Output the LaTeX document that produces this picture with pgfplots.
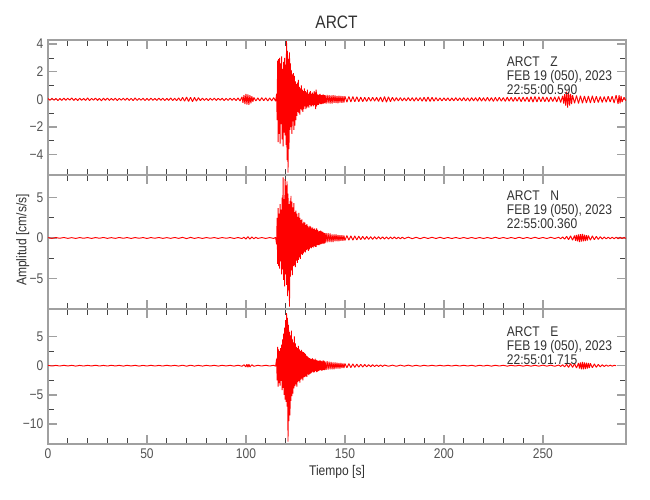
\documentclass[border=0pt]{standalone}
\usepackage{fontspec}
\setmainfont{Liberation Sans}[FakeStretch=0.86]
\usepackage{pgfplots}
\pgfplotsset{compat=1.18}

\definecolor{framegray}{RGB}{160,160,160}
\definecolor{tickdark}{RGB}{70,70,70}
\definecolor{labelgray}{RGB}{85,85,85}
\definecolor{textgray}{RGB}{50,50,50}

\pgfplotsset{
  seis/.style={
    scale only axis, width=433.5pt, height=101.25pt,
    xmin=0, xmax=292,
    axis line style={framegray, line width=1.1pt},
    tick align=inside,
    xtick={0,50,100,150,200,250}, minor x tick num=4,
    minor y tick num=1,
    major tick length=7pt, minor tick length=4.2pt,
    major tick style={framegray, line width=1.1pt},
    minor tick style={tickdark, line width=0.5pt},
    ticklabel style={font=\fontsize{10.5}{12}\selectfont, text=labelgray},
    xticklabels={},
  },
  trace/.style={red, line width=0.7pt, mark=none, line join=bevel},
}

\begin{document}
\begin{tikzpicture}
\path[use as bounding box, fill=white] (0,0) rectangle (487.5pt,375pt);

% --- Z component ---
\begin{axis}[seis, at={(36pt,243.75pt)}, anchor=south west,
  ymin=-5.47, ymax=4.29,
  ytick={-4,-2,0,2,4}, yticklabels={−4,−2,0,2,4}]
\addplot[trace] coordinates {
(0,0.06)(1,-0.07)(2,0.08)(3,-0.06)(4,0.07)(5,-0.09)(6,0.06)(7,-0.08)(8,0.09)(9,-0.07)(10,0.08)(11,-0.06)(12,0.1)(13,-0.08)(14,0.07)(15,-0.09)(16,0.08)(17,-0.07)(18,0.06)(19,-0.08)(20,0.1)(21,-0.09)(22,0.07)(23,-0.06)(24,0.09)(25,-0.08)(26,0.07)(27,-0.1)(28,0.08)(29,-0.07)(30,0.09)(31,-0.08)(32,0.06)(33,-0.07)(34,0.08)(35,-0.09)(36,0.07)(37,-0.06)(38,0.08)(39,-0.07)(40,0.09)(41,-0.08)(42,0.07)(43,-0.09)(44,0.1)(45,-0.08)(46,0.07)(47,-0.06)(48,0.08)(49,-0.09)(50,0.07)(51,-0.08)(52,0.09)(53,-0.07)(54,0.06)(55,-0.08)(56,0.09)(57,-0.07)(58,0.08)(59,-0.09)(60,0.07)(61,-0.08)(62,0.1)(63,-0.09)(64,0.08)(65,-0.1)(66,0.11)(67,-0.12)(68,0.15)(69,-0.14)(70,0.17)(71,-0.16)(72,0.15)(73,-0.17)(74,0.14)(75,-0.13)(76,0.12)(77,-0.1)(78,0.09)(79,-0.08)(80,0.07)(81,-0.09)(82,0.08)(83,-0.07)(84,0.09)(85,-0.08)(86,0.07)(87,-0.06)(88,0.08)(89,-0.09)(90,0.07)(91,-0.08)(92,0.09)(93,-0.07)(94,0.08)(95,-0.09)(96,0.1)(97,-0.12)
(98,0.18)(98.5,-0.25)(99,0.3)(99.5,-0.35)(100,0.4)(100.5,-0.38)(101,0.35)(101.5,-0.4)(102,0.3)(102.5,-0.28)(103,0.22)(103.5,-0.18)(104,0.14)(105,-0.12)(106,0.1)(107,-0.11)(108,0.12)(109,-0.1)(110,0.11)(111,-0.12)(112,0.1)(113,-0.11)(114,0.12)(115,-0.13)
(115.5,0.4)(115.75,-1.5)(116,2.8)(116.25,-3.1)(116.5,2.9)(116.75,-2.5)(117,3.0)(117.25,-3.2)(117.5,2.6)(117.75,-1.8)(118,3.1)(118.25,-2.9)(118.5,2.2)(118.75,-3.4)(119,2.7)(119.25,-2.4)(119.5,3.0)(119.75,-2.6)(120,2.5)(120.25,-3.3)(120.5,4.2)(120.75,-4.4)(121,3.5)(121.25,-5.3)(121.5,2.9)(121.75,-3.6)(122,3.4)(122.25,-2.2)(122.5,2.6)(122.75,-2.0)(123,2.1)(123.25,-2.5)(123.5,1.8)(123.75,-1.6)(124,1.9)(124.25,-2.2)(124.5,1.7)(124.75,-1.9)(125,1.3)(125.25,-1.5)(125.5,1.1)(125.75,-1.2)(126,1.2)(126.25,-0.9)(126.5,1.4)(126.75,-1.0)(127,0.9)(127.25,-1.1)(127.5,0.8)(127.75,-0.7)(128,1.0)(128.25,-0.8)(128.5,0.7)(128.75,-0.9)(129,0.6)(129.25,-0.7)(129.5,0.8)(129.75,-0.5)(130,0.6)(130.25,-0.7)(130.5,0.5)(130.75,-0.6)(131,0.7)(131.25,-0.5)(131.5,0.4)(131.75,-0.6)(132,0.5)(132.25,-0.4)(132.5,0.6)(132.75,-0.5)(133,0.4)(133.25,-0.5)(133.5,0.5)(133.75,-0.4)(134,0.4)(134.25,-0.5)(134.5,0.6)(134.75,-0.4)(135,0.5)(135.25,-0.7)(135.5,0.7)(135.75,-0.5)(136,0.4)(136.25,-0.4)(136.5,0.3)(136.75,-0.4)(137,0.35)(137.25,-0.3)(137.5,0.4)(137.75,-0.35)(138,0.3)(138.25,-0.35)(138.5,0.3)(138.75,-0.3)(139,0.35)(139.25,-0.3)(139.5,0.3)(139.75,-0.28)(140,0.3)(140.5,-0.3)(141,0.32)(141.5,-0.28)(142,0.3)(142.5,-0.3)(143,0.28)(143.5,-0.3)(144,0.3)(144.5,-0.26)(145,0.28)(145.5,-0.27)(146,0.25)(146.5,-0.28)(147,0.26)(147.5,-0.24)(148,0.25)(148.5,-0.26)(149,0.23)(149.5,-0.24)(150,0.22)
(151,-0.2)(152,0.21)(153,-0.19)(154,0.2)(155,-0.18)(156,0.19)(157,-0.17)(158,0.16)(159,-0.17)(160,0.15)(161,-0.16)(162,0.15)(163,-0.14)(164,0.15)(165,-0.13)(166,0.14)(167,-0.15)(168,0.17)(169,-0.19)(170,0.2)(171,-0.21)(172,0.19)(173,-0.17)(174,0.15)(175,-0.14)(176,0.13)(177,-0.12)(178,0.13)(179,-0.12)(180,0.11)(181,-0.12)(182,0.13)(183,-0.11)(184,0.12)(185,-0.13)(186,0.12)(187,-0.11)(188,0.13)(189,-0.14)(190,0.15)(191,-0.16)(192,0.17)(193,-0.16)(194,0.15)(195,-0.14)(196,0.13)(197,-0.12)(198,0.11)(199,-0.12)(200,0.11)(201,-0.1)(202,0.11)(203,-0.12)(204,0.1)(205,-0.11)(206,0.12)(207,-0.1)(208,0.11)(209,-0.12)(210,0.13)(211,-0.12)(212,0.11)(213,-0.13)(214,0.12)(215,-0.11)(216,0.12)(217,-0.13)(218,0.14)(219,-0.13)(220,0.12)(221,-0.14)(222,0.15)(223,-0.14)(224,0.13)(225,-0.15)(226,0.14)(227,-0.13)(228,0.15)(229,-0.14)(230,0.13)(231,-0.15)(232,0.16)(233,-0.14)(234,0.15)(235,-0.16)(236,0.15)(237,-0.14)(238,0.16)(239,-0.17)(240,0.16)(241,-0.15)(242,0.17)(243,-0.18)(244,0.19)(245,-0.2)(246,0.21)(247,-0.19)(248,0.18)(249,-0.17)(250,0.18)(251,-0.17)(252,0.16)(253,-0.18)(254,0.17)(255,-0.16)(256,0.18)(257,-0.19)(258,0.2)(259,-0.22)(260,0.25)(260.5,-0.3)(261,0.38)(261.5,-0.45)(262,0.55)(262.5,-0.6)(263,0.5)(263.5,-0.45)(264,0.4)(264.5,-0.35)(265,0.3)(266,-0.28)(267,0.27)(268,-0.3)(269,0.26)(270,-0.28)(271,0.25)(272,-0.27)(273,0.24)(274,-0.26)(275,0.25)(276,-0.24)(277,0.22)(278,-0.23)(279,0.21)(280,-0.22)(281,0.2)(282,-0.21)(283,0.22)(284,-0.2)(285,0.23)(286,-0.26)(287,0.3)(288,-0.33)(288.5,0.3)(289,-0.28)(289.5,0.25)(290,-0.2)(291,0.15)(292,-0.1)
};
\end{axis}

% --- N component ---
\begin{axis}[seis, at={(36pt,143.25pt)}, anchor=south west, height=100.5pt,
  ymin=-8.8, ymax=7.8,
  ytick={-5,0,5}, yticklabels={−5,0,5}]
\addplot[trace] coordinates {
(0,0.04)(2,-0.05)(4,0.05)(6,-0.04)(8,0.06)(10,-0.05)(12,0.04)(14,-0.06)(16,0.05)(18,-0.04)(20,0.05)(22,-0.06)(24,0.05)(26,-0.04)(28,0.06)(30,-0.05)(32,0.04)(34,-0.05)(36,0.06)(38,-0.04)(40,0.05)(42,-0.06)(44,0.05)(46,-0.04)(48,0.05)(50,-0.06)(52,0.05)(54,-0.04)(56,0.06)(58,-0.05)(60,0.04)(62,-0.05)(64,0.06)(66,-0.05)(68,0.07)(70,-0.08)(72,0.07)(74,-0.06)(76,0.05)(78,-0.06)(80,0.05)(82,-0.04)(84,0.05)(86,-0.06)(88,0.05)(90,-0.04)(92,0.05)(94,-0.06)(96,0.05)(98,-0.07)
(99,0.1)(100,-0.14)(101,0.16)(102,-0.15)(103,0.13)(104,-0.1)(105,0.08)(106,-0.06)(108,0.05)(110,-0.06)(112,0.05)(114,-0.06)(115,0.07)
(115.5,-0.8)(115.75,2.5)(116,-3.2)(116.25,3.7)(116.5,-3.5)(116.75,3.0)(117,-3.8)(117.25,4.2)(117.5,-2.9)(117.75,3.5)(118,-4.5)(118.25,5.0)(118.5,-3.9)(118.75,7.5)(119,-5.2)(119.25,4.8)(119.5,-6.0)(119.75,7.3)(120,-4.5)(120.25,6.5)(120.5,-5.8)(120.75,7.0)(121,-7.2)(121.25,5.5)(121.5,-6.5)(121.75,4.2)(122,-8.5)(122.25,4.6)(122.5,-4.8)(122.75,5.2)(123,-4.0)(123.25,4.5)(123.5,-4.6)(123.75,3.8)(124,-3.5)(124.25,4.3)(124.5,-3.4)(124.75,3.2)(125,-3.6)(125.25,3.4)(125.5,-2.8)(125.75,3.0)(126,-3.1)(126.25,2.6)(126.5,-2.7)(126.75,3.1)(127,-2.4)(127.25,2.5)(127.5,-2.6)(127.75,2.2)(128,-2.0)(128.25,2.3)(128.5,-2.1)(128.75,1.8)(129,-1.9)(129.25,2.0)(129.5,-1.7)(129.75,1.9)(130,-1.8)(130.25,1.6)(130.5,-1.5)(130.75,1.7)(131,-1.4)(131.25,1.5)(131.5,-1.6)(131.75,1.3)(132,-1.4)(132.25,1.5)(132.5,-1.2)(132.75,1.4)(133,-1.3)(133.25,1.2)(133.5,-1.1)(133.75,1.3)(134,-1.2)(134.25,1.1)(134.5,-1.0)(134.75,1.2)(135,-1.1)(135.25,1.0)(135.5,-1.1)(135.75,1.2)(136,-0.9)(136.25,1.0)(136.5,-0.9)(136.75,0.8)(137,-0.9)(137.25,0.85)(137.5,-0.8)(137.75,0.9)(138,-0.75)(138.25,0.8)(138.5,-0.7)(138.75,0.75)(139,-0.7)(139.25,0.65)(139.5,-0.7)(139.75,0.6)(140,-0.65)(140.5,0.6)(141,-0.55)(141.5,0.6)(142,-0.5)(142.5,0.55)(143,-0.5)(143.5,0.45)(144,-0.5)(144.5,0.45)(145,-0.4)(145.5,0.45)(146,-0.4)(146.5,0.38)(147,-0.4)(147.5,0.35)(148,-0.36)(148.5,0.33)(149,-0.35)(149.5,0.3)(150,-0.32)(151,0.3)(152,-0.28)(153,0.26)(154,-0.27)(155,0.25)(156,-0.24)(157,0.22)(158,-0.21)(159,0.2)(160,-0.19)
(161,0.18)(162,-0.17)(163,0.16)(164,-0.17)(165,0.15)(166,-0.14)(167,0.15)(168,-0.13)(169,0.14)(170,-0.13)(171,0.12)(172,-0.13)(173,0.12)(174,-0.11)(175,0.12)(176,-0.11)(177,0.1)(178,-0.11)(179,0.1)(180,-0.09)(182,0.1)(184,-0.09)(186,0.08)(188,-0.09)(190,0.08)(192,-0.07)(194,0.08)(196,-0.07)(198,0.08)(200,-0.07)(202,0.06)(204,-0.07)(206,0.06)(208,-0.07)(210,0.06)(212,-0.07)(214,0.06)(216,-0.07)(218,0.06)(220,-0.07)(222,0.06)(224,-0.07)(226,0.08)(228,-0.07)(230,0.06)(232,-0.07)(234,0.06)(236,-0.07)(238,0.08)(240,-0.07)(242,0.06)(244,-0.07)(246,0.08)(248,-0.07)(250,0.06)(252,-0.07)(254,0.08)(256,-0.07)(258,0.08)(259,-0.1)(260,0.12)(261,-0.15)(262,0.2)(263,-0.22)(264,0.26)(265,-0.28)(266,0.3)(266.5,-0.35)(267,0.38)(267.5,-0.42)(268,0.45)(268.5,-0.5)(269,0.48)(269.5,-0.45)(270,0.5)(270.5,-0.42)(271,0.4)(271.5,-0.38)(272,0.35)(272.5,-0.32)(273,0.3)(274,-0.28)(275,0.25)(276,-0.22)(277,0.2)(278,-0.18)(279,0.16)(280,-0.14)(281,0.12)(282,-0.11)(283,0.1)(284,-0.1)(285,0.09)(286,-0.1)(287,0.09)(288,-0.1)(289,0.09)(290,-0.08)(291,0.07)(292,-0.06)
};
\end{axis}

% --- E component ---
\begin{axis}[seis, at={(36pt,42pt)}, anchor=south west,
  ymin=-13.4, ymax=9.7,
  ytick={-10,-5,0,5}, yticklabels={−10,−5,0,5},
  xticklabels={0,50,100,150,200,250}]
\addplot[trace] coordinates {
(0,0.05)(2,-0.06)(4,0.05)(6,-0.06)(8,0.07)(10,-0.05)(12,0.06)(14,-0.07)(16,0.05)(18,-0.06)(20,0.06)(22,-0.05)(24,0.07)(26,-0.06)(28,0.05)(30,-0.06)(32,0.07)(34,-0.05)(36,0.06)(38,-0.07)(40,0.06)(42,-0.05)(44,0.06)(46,-0.07)(48,0.05)(50,-0.06)(52,0.07)(54,-0.06)(56,0.05)(58,-0.06)(60,0.07)(62,-0.05)(64,0.06)(66,-0.07)(68,0.08)(70,-0.09)(72,0.08)(74,-0.07)(76,0.06)(78,-0.07)(80,0.06)(82,-0.05)(84,0.06)(86,-0.07)(88,0.06)(90,-0.05)(92,0.06)(94,-0.07)(96,0.08)(98,-0.1)
(99,0.15)(100,-0.2)(100.5,0.25)(101,-0.28)(101.5,0.25)(102,-0.22)(103,0.15)(104,-0.1)(106,0.07)(108,-0.06)(110,0.07)(112,-0.06)(114,0.07)(115,-0.08)
(115.5,1.2)(115.75,-2.5)(116,3.2)(116.25,-3.6)(116.5,2.8)(116.75,-3.0)(117,2.5)(117.25,-3.4)(117.5,3.0)(117.75,-2.6)(118,3.6)(118.25,-4.2)(118.5,4.5)(118.75,-3.8)(119,5.5)(119.25,-5.0)(119.5,6.5)(119.75,-5.8)(120,7.8)(120.25,-6.2)(120.5,9.0)(120.75,-7.0)(121,8.2)(121.25,-13.0)(121.5,7.0)(121.75,-9.5)(122,5.8)(122.25,-8.5)(122.5,5.2)(122.75,-6.0)(123,6.0)(123.25,-5.2)(123.5,4.5)(123.75,-4.8)(124,4.0)(124.25,-3.9)(124.5,5.0)(124.75,-3.5)(125,3.8)(125.25,-3.2)(125.5,3.2)(125.75,-3.6)(126,3.0)(126.25,-2.8)(126.5,3.4)(126.75,-2.6)(127,2.8)(127.25,-2.9)(127.5,2.5)(127.75,-2.4)(128,2.7)(128.25,-2.2)(128.5,2.4)(128.75,-2.5)(129,2.3)(129.25,-2.0)(129.5,2.2)(129.75,-1.9)(130,2.0)(130.25,-1.8)(130.5,1.7)(130.75,-1.9)(131,1.6)(131.25,-1.5)(131.5,1.4)(131.75,-1.6)(132,1.3)(132.25,-1.4)(132.5,1.2)(132.75,-1.3)(133,1.1)(133.25,-1.2)(133.5,1.3)(133.75,-1.0)(134,1.1)(134.25,-1.2)(134.5,1.0)(134.75,-1.1)(135,1.2)(135.25,-0.9)(135.5,1.0)(135.75,-1.1)(136,0.9)(136.25,-1.0)(136.5,0.8)(136.75,-0.9)(137,0.85)(137.25,-0.8)(137.5,0.9)(137.75,-0.75)(138,0.8)(138.25,-0.85)(138.5,0.75)(138.75,-0.8)(139,0.9)(139.25,-0.7)(139.5,0.8)(139.75,-0.75)(140,0.7)(140.5,-0.7)(141,0.75)(141.5,-0.65)(142,0.7)(142.5,-0.6)(143,0.65)(143.5,-0.6)(144,0.55)(144.5,-0.6)(145,0.55)(145.5,-0.5)(146,0.5)(146.5,-0.48)(147,0.45)(147.5,-0.5)(148,0.45)(148.5,-0.42)(149,0.4)(149.5,-0.42)(150,0.38)(151,-0.36)(152,0.34)(153,-0.33)(154,0.3)(155,-0.28)(156,0.27)(157,-0.25)(158,0.24)(159,-0.22)(160,0.2)
(161,-0.19)(162,0.18)(163,-0.17)(164,0.16)(165,-0.15)(166,0.14)(167,-0.13)(168,0.12)(169,-0.12)(170,0.11)(172,-0.1)(174,0.09)(176,-0.1)(178,0.09)(180,-0.08)(182,0.09)(184,-0.08)(186,0.07)(188,-0.08)(190,0.07)(192,-0.06)(194,0.07)(196,-0.06)(198,0.07)(200,-0.06)(202,0.07)(204,-0.06)(206,0.07)(208,-0.06)(210,0.07)(212,-0.06)(214,0.07)(216,-0.08)(218,0.07)(220,-0.06)(222,0.07)(224,-0.08)(226,0.07)(228,-0.06)(230,0.07)(232,-0.08)(234,0.07)(236,-0.06)(238,0.07)(240,-0.08)(242,0.07)(244,-0.08)(246,0.07)(248,-0.08)(250,0.09)(252,-0.08)(254,0.09)(256,-0.1)(258,0.11)(259,-0.12)(260,0.15)(261,-0.2)(262,0.25)(263,-0.3)(264,0.35)(265,-0.3)(266,0.35)(267,-0.4)(268,0.45)(268.5,-0.5)(269,0.55)(269.5,-0.6)(270,0.62)(270.5,-0.6)(271,0.55)(271.5,-0.58)(272,0.5)(272.5,-0.48)(273,0.45)(273.5,-0.42)(274,0.4)(275,-0.35)(276,0.3)(277,-0.27)(278,0.22)(279,-0.2)(280,0.16)(281,-0.14)(282,0.12)(283,-0.1)(284,0.09)(285,-0.08)(286,0.07)(287,0)
};
\end{axis}

% titles and labels
\node[anchor=base, text=textgray, font=\fontsize{13.5}{15}\selectfont] at (252.4pt,353.25pt) {ARCT};
\node[anchor=base, text=textgray, font=\fontsize{10.5}{12}\selectfont] at (252.75pt,18.4pt) {Tiempo [s]};
\node[rotate=90, text=textgray, font=\fontsize{10.5}{12}\selectfont] at (17pt,195pt) {Amplitud [cm/s/s]};

% station annotations
\begin{scope}[every node/.style={anchor=base west, inner sep=0pt, text=textgray, font=\fontsize{10.5}{12}\selectfont}]
\node at (380pt,324.75pt) {ARCT\hspace{8pt}Z};
\node at (380pt,314.25pt) {FEB 19 (050), 2023};
\node at (380pt,304.1pt) {22:55:00.590};
\node at (380pt,224.25pt) {ARCT\hspace{8pt}N};
\node at (380pt,213.75pt) {FEB 19 (050), 2023};
\node at (380pt,203.25pt) {22:55:00.360};
\node at (380pt,122.25pt) {ARCT\hspace{8pt}E};
\node at (380pt,111.75pt) {FEB 19 (050), 2023};
\node at (380pt,101.25pt) {22:55:01.715};
\end{scope}
\end{tikzpicture}
\end{document}
